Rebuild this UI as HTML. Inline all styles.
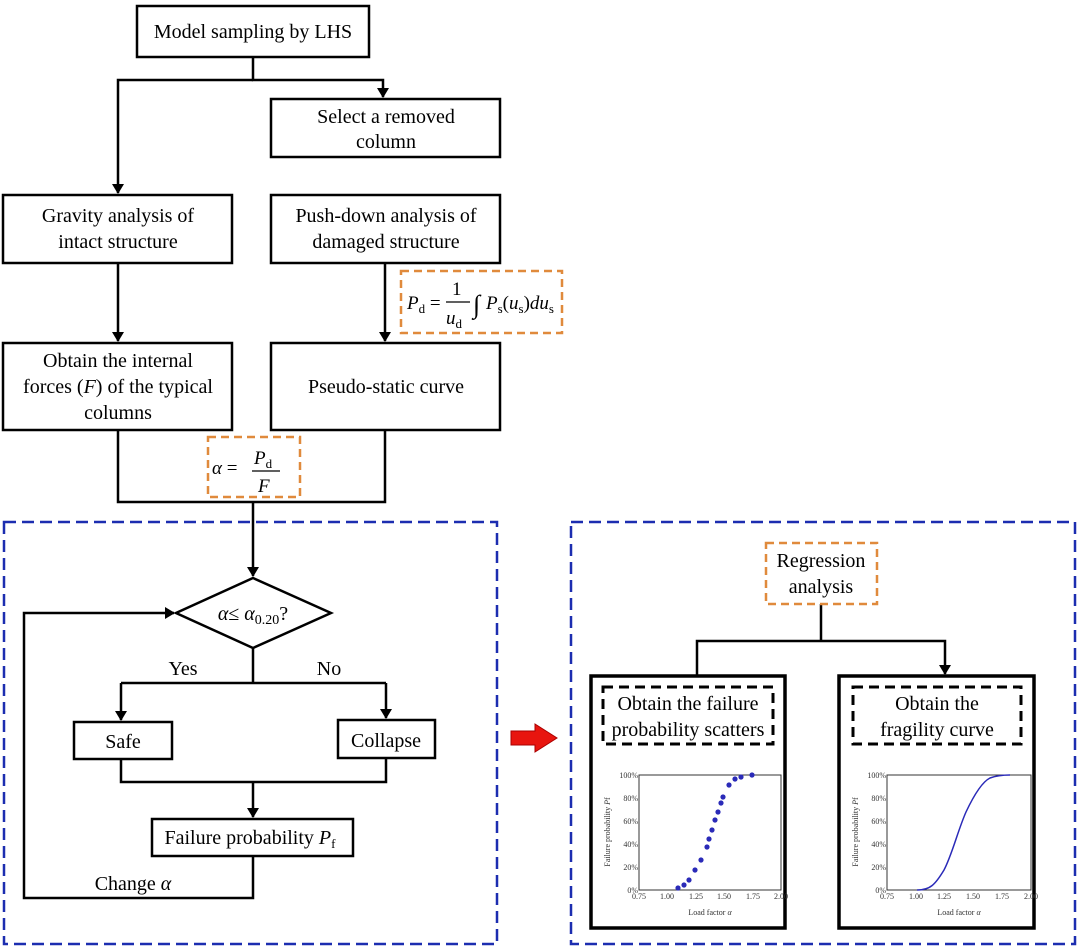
<!DOCTYPE html>
<html><head><meta charset="utf-8"><style>
html,body{margin:0;padding:0;background:#fff;}
svg{display:block;font-family:"Liberation Serif",serif;}
</style></head><body>
<svg width="1080" height="948" viewBox="0 0 1080 948" xmlns="http://www.w3.org/2000/svg">
<defs>
<marker id="a" markerWidth="10" markerHeight="12" refX="9" refY="6" orient="auto" markerUnits="userSpaceOnUse">
<path d="M0,0 L10,6 L0,12 z" fill="#000"/></marker>
</defs>
<g fill="none" stroke="#000" stroke-width="2.5">
<rect x="137" y="6" width="232" height="51"/>
<rect x="271" y="99" width="229" height="58"/>
<rect x="3" y="195" width="229" height="68"/>
<rect x="271" y="195" width="229" height="68"/>
<rect x="3" y="343" width="229" height="87"/>
<rect x="271" y="343" width="229" height="87"/>
<path d="M253,57 V80 H383 V97"  marker-end="url(#a)"/>
<path d="M253,80 H118 V193" marker-end="url(#a)"/>
<path d="M118,263 V341" marker-end="url(#a)"/>
<path d="M385,263 V341" marker-end="url(#a)"/>
<path d="M118,430 V502 H385 V430"/>
<path d="M253,502 V576" marker-end="url(#a)"/>
<path d="M253,578 L331,613 L253,648 L176,613 Z"/>
<path d="M253,648 V683"/>
<path d="M121,683 H386"/>
<path d="M121,683 V720" marker-end="url(#a)"/>
<path d="M386,683 V718" marker-end="url(#a)"/>
<rect x="74" y="722" width="98" height="37"/>
<rect x="338" y="720" width="97" height="38"/>
<path d="M121,759 V782 H386 V758"/>
<path d="M253,782 V817" marker-end="url(#a)"/>
<rect x="152" y="819" width="201" height="37"/>
<path d="M253,856 V898 H24 V613 H174" marker-end="url(#a)"/>
<path d="M697,676 V641 H945 V674" marker-end="url(#a)"/>
<path d="M821,604 V641"/>
</g>
<g fill="none" stroke="#000" stroke-width="3.5">
<rect x="591" y="676" width="194" height="252"/>
<rect x="839" y="676" width="195" height="252"/>
</g>
<g fill="none" stroke="#000" stroke-width="3" stroke-dasharray="10,6">
<rect x="603" y="687" width="170" height="57"/>
<rect x="853" y="687" width="168" height="57"/>
</g>
<g fill="none" stroke="#e08a3c" stroke-width="2.5" stroke-dasharray="8,5">
<rect x="401" y="271" width="161" height="62"/>
<rect x="208" y="437" width="92" height="60"/>
<rect x="766" y="543" width="111" height="61"/>
</g>
<g fill="none" stroke="#1c2db0" stroke-width="2.5" stroke-dasharray="12,6">
<rect x="4" y="522" width="493" height="422"/>
<rect x="571" y="522" width="504" height="422"/>
</g>
<path d="M511,731 H535 V724 L557,738 L535,752 V745 H511 Z" fill="#e8150f" stroke="#a00" stroke-width="1"/>
<g font-size="20" fill="#000" text-anchor="middle">
<text x="253" y="38">Model sampling by LHS</text>
<text x="386" y="123">Select a removed</text>
<text x="386" y="148">column</text>
<text x="118" y="222">Gravity analysis of</text>
<text x="118" y="248">intact structure</text>
<text x="386" y="222">Push-down analysis of</text>
<text x="386" y="248">damaged structure</text>
<text x="118" y="367">Obtain the internal</text>
<text x="118" y="393">forces (<tspan font-style="italic">F</tspan>) of the typical</text>
<text x="118" y="419">columns</text>
<text x="386" y="393">Pseudo-static curve</text>
<text x="253" y="620"><tspan font-style="italic">α</tspan>≤ <tspan font-style="italic">α</tspan><tspan font-size="14" dy="4">0.20</tspan><tspan dy="-4">?</tspan></text>
<text x="183" y="675">Yes</text>
<text x="329" y="675">No</text>
<text x="123" y="748">Safe</text>
<text x="386" y="747">Collapse</text>
<text x="250" y="844">Failure probability <tspan font-style="italic">P</tspan><tspan font-size="13" dy="4">f</tspan></text>
<text x="133" y="890">Change <tspan font-style="italic">α</tspan></text>
<text x="821" y="567">Regression</text>
<text x="821" y="593">analysis</text>
<text x="688" y="710">Obtain the failure</text>
<text x="688" y="736">probability scatters</text>
<text x="937" y="710">Obtain the</text>
<text x="937" y="736">fragility curve</text>
</g>
<!-- formulas -->
<g font-size="19" fill="#000">
<text x="407" y="309"><tspan font-style="italic">P</tspan><tspan font-size="13" dy="4">d</tspan><tspan dy="-4"> =</tspan></text>
<text x="452" y="295">1</text>
<line x1="446" y1="302" x2="470" y2="302" stroke="#000" stroke-width="1.2"/>
<text x="446" y="324"><tspan font-style="italic">u</tspan><tspan font-size="13" dy="4">d</tspan></text>
<text x="473" y="313" font-size="26">∫</text>
<text x="486" y="309"><tspan font-style="italic">P</tspan><tspan font-size="13" dy="4">s</tspan><tspan dy="-4">(</tspan><tspan font-style="italic">u</tspan><tspan font-size="13" dy="4">s</tspan><tspan dy="-4">)</tspan><tspan font-style="italic">du</tspan><tspan font-size="13" dy="4">s</tspan></text>
<text x="212" y="474"><tspan font-style="italic">α</tspan> =</text>
<text x="254" y="464"><tspan font-style="italic">P</tspan><tspan font-size="13" dy="4">d</tspan></text>
<line x1="252" y1="471" x2="280" y2="471" stroke="#000" stroke-width="1.2"/>
<text x="258" y="492" font-style="italic">F</text>
</g>
<!-- charts -->
<g font-size="8" fill="#333">
<rect x="639" y="775" width="142" height="115" fill="none" stroke="#333" stroke-width="1"/>
<rect x="887" y="775" width="144" height="115" fill="none" stroke="#333" stroke-width="1"/>
<g text-anchor="end">
<text x="638" y="778">100%</text><text x="638" y="801">80%</text><text x="638" y="824">60%</text><text x="638" y="847">40%</text><text x="638" y="870">20%</text><text x="638" y="893">0%</text>
<text x="886" y="778">100%</text><text x="886" y="801">80%</text><text x="886" y="824">60%</text><text x="886" y="847">40%</text><text x="886" y="870">20%</text><text x="886" y="893">0%</text>
</g>
<g text-anchor="middle">
<text x="639" y="899">0.75</text><text x="667" y="899">1.00</text><text x="696" y="899">1.25</text><text x="724" y="899">1.50</text><text x="753" y="899">1.75</text><text x="781" y="899">2.00</text>
<text x="887" y="899">0.75</text><text x="916" y="899">1.00</text><text x="944" y="899">1.25</text><text x="973" y="899">1.50</text><text x="1002" y="899">1.75</text><text x="1031" y="899">2.00</text>
<text x="710" y="915">Load factor <tspan font-style="italic">α</tspan></text>
<text x="959" y="915">Load factor <tspan font-style="italic">α</tspan></text>
<text transform="translate(610,832) rotate(-90)">Failure probability <tspan font-style="italic">P</tspan>f</text>
<text transform="translate(858,832) rotate(-90)">Failure probability <tspan font-style="italic">P</tspan>f</text>
</g>
</g>
<g fill="#2a2ab8">
<circle cx="678" cy="888" r="2.6"/><circle cx="684" cy="885" r="2.6"/><circle cx="689" cy="880" r="2.6"/><circle cx="695" cy="870" r="2.6"/><circle cx="701" cy="860" r="2.6"/><circle cx="707" cy="847" r="2.6"/><circle cx="709" cy="839" r="2.6"/><circle cx="712" cy="830" r="2.6"/><circle cx="715" cy="820" r="2.6"/><circle cx="718" cy="812" r="2.6"/><circle cx="721" cy="803" r="2.6"/><circle cx="723" cy="797" r="2.6"/><circle cx="729" cy="785" r="2.6"/><circle cx="735" cy="779" r="2.6"/><circle cx="741" cy="777" r="2.6"/><circle cx="752" cy="775" r="2.6"/>
</g>
<path d="M917,890 C930,890 935,885 944,870 C952,855 958,830 966,812 C974,795 982,782 990,778 C998,775 1005,775 1010,775" fill="none" stroke="#2a2ab8" stroke-width="1.5"/>
</svg>
</body></html>
